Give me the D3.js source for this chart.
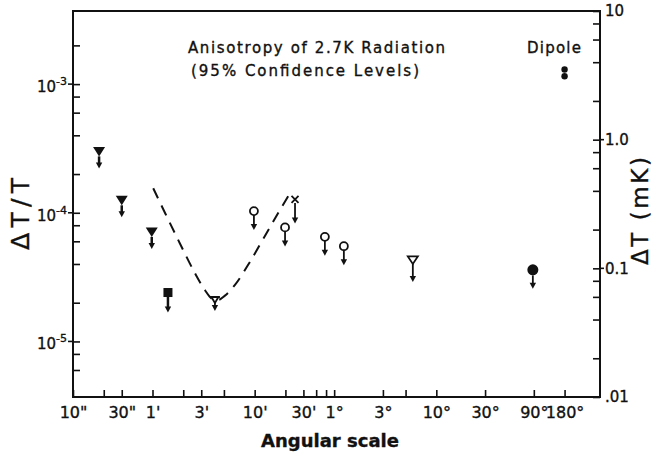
<!DOCTYPE html>
<html>
<head>
<meta charset="utf-8">
<script src="https://cdn.jsdelivr.net/npm/d3@7"></script>
<style>
  body { margin: 0; background: #fff; }
  svg { display: block; }
  text { font-family: "DejaVu Sans", sans-serif; fill: #111; stroke: #111; stroke-width: 0.35px; }
</style>
</head>
<body>
<div id="chart"></div>
<script>
// angular scale in arc seconds, upper limits on dT/T
const angleArcsec = [18, 30, 59, 85, 245, 590, 1190, 1490, 2920, 4480, 21200, 317000];
const limitDT = [3.0e-4, 1.25e-4, 7.1e-5, 2.4e-5, 2.1e-5, 1.03e-4, 7.7e-5, 1.27e-4, 6.5e-5, 5.5e-5, 4.3e-5, 3.6e-5];
const symbolType = ['filledTri', 'filledTri', 'filledTri', 'filledSquare', 'smallTri', 'openCircle',
  'openCircle', 'cross', 'openCircle', 'openCircle', 'openTri', 'filledCircle'];

// dipole detection (180 deg)
const dipoleArcsec = [648000, 648000];
const dipoleDT = [1.3e-3, 1.15e-3];

// dashed curve
const curveArcsec = [61, 79, 111, 156, 196, 229, 262, 307, 385, 539, 756, 1060, 1330];
const curveDT = [1.55e-4, 1.01e-4, 5.8e-5, 3.4e-5, 2.5e-5, 2.15e-5, 2.1e-5, 2.27e-5, 2.75e-5, 4.15e-5, 6.6e-5, 1.05e-4, 1.42e-4];

// x ticks
const xMajor = [10, 30, 60, 180, 600, 1800, 3600, 10800, 36000, 108000, 324000, 648000];
const xLabels = ['10"', '30"', "1'", "3'", "10'", "30'", '1°', '3°', '10°', '30°', '90°', '180°'];
const xMinor = [20, 120, 300, 1200, 2400, 3000, 18000];

// left y ticks (dT/T)
const yLeftMajor = [1e-3, 1e-4, 1e-5];
const yLeftExp = ['-3', '-4', '-5'];
// right y ticks (mK)
const yRightMajor = [10, 1, 0.1, 0.01];
const yRightLabels = ['10', '1.0', '0.1', '.01'];

const width = 654, height = 457;
const plotLeft = 73, plotRight = 600, plotTop = 11, plotBottom = 397;

const svg = d3.select('#chart').append('svg')
  .attr('width', width)
  .attr('height', height);

const x = d3.scaleLog().domain([10, 1.44e6]).range([plotLeft, plotRight]);
const yL = d3.scaleLog().domain([3.7e-6, 3.7e-3]).range([plotBottom, plotTop]);
const yR = d3.scaleLog().domain([0.01, 10]).range([plotBottom, plotTop]);

// minor ticks at 2,4,6,8 per decade
function minorTicks(scale, decades) {
  const out = [];
  const [lo, hi] = scale.domain();
  decades.forEach(p => [2, 4, 6, 8].forEach(m => {
    const v = m * Math.pow(10, p);
    if (v > lo && v < hi && Math.abs(scale(v) - plotBottom) > 5) out.push(v);
  }));
  return out;
}

// bottom axis
const labelOf = new Map(xMajor.map((v, i) => [v, xLabels[i]]));
const xAxis = svg.append('g')
  .attr('transform', `translate(0,${plotBottom})`)
  .call(d3.axisBottom(x)
    .tickValues(xMajor.concat(xMinor))
    .tickSizeInner(-7)
    .tickSizeOuter(0)
    .tickPadding(10)
    .tickFormat(d => labelOf.get(d) || ''));
xAxis.select('.domain').remove();
xAxis.selectAll('line').attr('stroke', '#111').attr('stroke-width', 1.6);
xAxis.selectAll('text').attr('font-size', 16).attr('font-family', 'DejaVu Sans').attr('fill', '#111');

// left axis
const yAxisL = svg.append('g')
  .attr('transform', `translate(${plotLeft},0)`)
  .call(d3.axisLeft(yL)
    .tickValues(yLeftMajor.concat(minorTicks(yL, [-6, -5, -4, -3])))
    .tickSizeInner(-7)
    .tickSizeOuter(0)
    .tickFormat(''));
yAxisL.select('.domain').remove();
yAxisL.selectAll('line').attr('stroke', '#111').attr('stroke-width', 1.6);

// right axis
const rLabel = new Map(yRightMajor.map((v, i) => [v, yRightLabels[i]]));
const yAxisR = svg.append('g')
  .attr('transform', `translate(${plotRight},0)`)
  .call(d3.axisRight(yR)
    .tickValues(yRightMajor.concat(minorTicks(yR, [-2, -1, 0])))
    .tickSizeInner(-7)
    .tickSizeOuter(0)
    .tickPadding(5)
    .tickFormat(d => rLabel.get(d) || ''));
yAxisR.select('.domain').remove();
yAxisR.selectAll('line').attr('stroke', '#111').attr('stroke-width', 1.6);
yAxisR.selectAll('text').attr('font-size', 15).attr('font-family', 'DejaVu Sans').attr('fill', '#111');

// major ticks poke out a little
yLeftMajor.forEach(v => {
  svg.append('line').attr('x1', plotLeft - 5).attr('x2', plotLeft)
    .attr('y1', yL(v)).attr('y2', yL(v)).attr('stroke', '#111').attr('stroke-width', 1.6);
});
yRightMajor.slice(1, 3).forEach(v => {
  svg.append('line').attr('x1', plotRight).attr('x2', plotRight + 4)
    .attr('y1', yR(v)).attr('y2', yR(v)).attr('stroke', '#111').attr('stroke-width', 1.6);
});

// left labels 10^-n
yLeftMajor.forEach((v, i) => {
  const t = svg.append('text')
    .attr('x', 67)
    .attr('y', yL(v) + 8)
    .attr('text-anchor', 'end')
    .attr('font-size', 15);
  t.append('tspan').text('10');
  t.append('tspan').attr('dy', -7).attr('font-size', 11).text(yLeftExp[i]);
});

// frame
svg.append('rect')
  .attr('x', plotLeft).attr('y', plotTop)
  .attr('width', plotRight - plotLeft).attr('height', plotBottom - plotTop)
  .attr('fill', 'none').attr('stroke', '#111').attr('stroke-width', 2);

// dashed curve
const line = d3.line()
  .x((d, i) => x(curveArcsec[i]))
  .y(d => yL(d))
  .curve(d3.curveMonotoneX);
svg.append('path')
  .attr('d', line(curveDT))
  .attr('fill', 'none')
  .attr('stroke', '#111')
  .attr('stroke-width', 2)
  .attr('stroke-dasharray', '11,8');

// symbols with upper-limit arrows
const styleByType = {
  filledTri: { arrow: 17, base: 5 },
  filledSquare: { arrow: 20, base: 4.5 },
  smallTri: { arrow: 11, base: 3 },
  openCircle: { arrow: 19, base: 4 },
  cross: { arrow: 24, base: 3.5 },
  openTri: { arrow: 22, base: 4 },
  filledCircle: { arrow: 19, base: 5.5 }
};

const pts = svg.append('g').selectAll('g')
  .data(angleArcsec.map((a, i) => ({ a, v: limitDT[i], type: symbolType[i] })))
  .enter().append('g')
  .attr('transform', d => `translate(${x(d.a)},${yL(d.v)})`);

// stem + head
pts.append('line')
  .attr('x1', 0).attr('x2', 0)
  .attr('y1', d => styleByType[d.type].base)
  .attr('y2', d => styleByType[d.type].arrow - 4)
  .attr('stroke', '#111')
  .attr('stroke-width', d => d.type === 'filledTri' || d.type === 'filledSquare' ? 2.5 : 1.8);
pts.append('path')
  .attr('d', d => {
    const t = styleByType[d.type].arrow;
    return `M-3.2,${t - 6} L3.2,${t - 6} L0,${t} Z`;
  })
  .attr('fill', '#111');

pts.each(function (d) {
  const g = d3.select(this);
  if (d.type === 'filledTri') {
    g.append('path').attr('d', 'M-6,-4.5 L6,-4.5 L0,5 Z').attr('fill', '#111');
  } else if (d.type === 'filledSquare') {
    g.append('rect').attr('x', -4.5).attr('y', -4.5).attr('width', 9).attr('height', 9).attr('fill', '#111');
  } else if (d.type === 'smallTri') {
    g.append('path').attr('d', 'M-5,-3 L5,-3 M-3.5,-3 L0,3 L3.5,-3').attr('fill', 'none')
      .attr('stroke', '#111').attr('stroke-width', 1.8);
  } else if (d.type === 'openCircle') {
    g.append('circle').attr('r', 4).attr('fill', '#fff').attr('stroke', '#111').attr('stroke-width', 1.8);
  } else if (d.type === 'cross') {
    g.append('path').attr('d', 'M-3.5,-3.5 L3.5,3.5 M3.5,-3.5 L-3.5,3.5').attr('stroke', '#111').attr('stroke-width', 1.8);
  } else if (d.type === 'openTri') {
    g.append('path').attr('d', 'M-5,-3.5 L5,-3.5 L0,4 Z').attr('fill', '#fff')
      .attr('stroke', '#111').attr('stroke-width', 1.8);
  } else if (d.type === 'filledCircle') {
    g.append('circle').attr('r', 5.5).attr('fill', '#111');
  }
});

// dipole
svg.append('g').selectAll('circle')
  .data(dipoleDT)
  .enter().append('circle')
  .attr('cx', (d, i) => x(dipoleArcsec[i]))
  .attr('cy', d => yL(d))
  .attr('r', 3.2)
  .attr('fill', '#111');

// texts
svg.append('text').attr('x', 188).attr('y', 53).attr('font-size', 15)
  .attr('textLength', 257).attr('lengthAdjust', 'spacing')
  .text('Anisotropy of 2.7K Radiation');
svg.append('text').attr('x', 191).attr('y', 76).attr('font-size', 15)
  .attr('textLength', 228).attr('lengthAdjust', 'spacing')
  .text('(95% Confidence Levels)');
svg.append('text').attr('x', 527).attr('y', 53).attr('font-size', 15)
  .attr('textLength', 54).attr('lengthAdjust', 'spacing')
  .text('Dipole');

svg.append('text').attr('x', 330).attr('y', 447)
  .attr('text-anchor', 'middle').attr('font-size', 18).attr('font-weight', 'bold')
  .text('Angular scale');

svg.append('text')
  .attr('transform', 'translate(29,250) rotate(-90)')
  .attr('font-size', 25)
  .attr('textLength', 72).attr('lengthAdjust', 'spacing')
  .text('ΔT/T');

svg.append('text')
  .attr('transform', 'translate(648,265) rotate(-90)')
  .attr('font-size', 23)
  .attr('textLength', 108).attr('lengthAdjust', 'spacing')
  .text('ΔT (mK)');
</script>
</body>
</html>
